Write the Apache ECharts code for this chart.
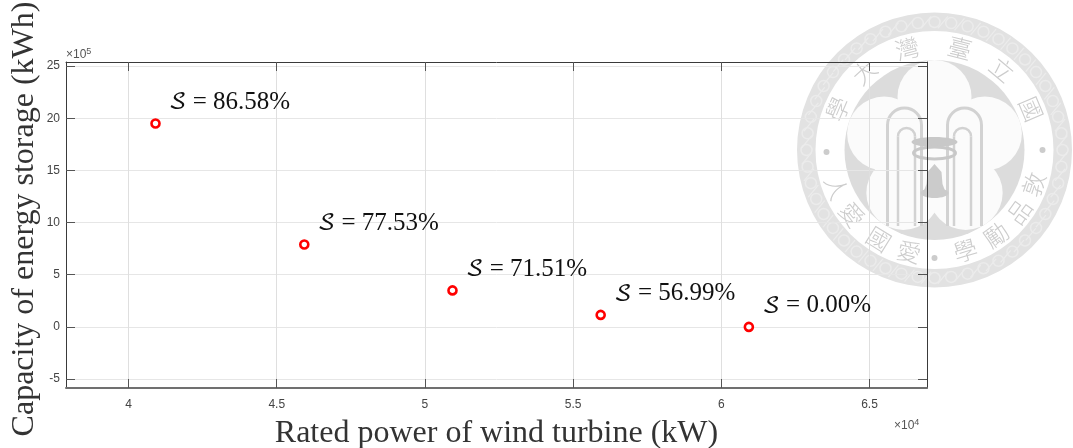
<!DOCTYPE html>
<html><head><meta charset="utf-8">
<style>html,body{margin:0;padding:0;background:#fff}#c{width:1073px;height:448px}</style>
<script src="https://cdn.jsdelivr.net/npm/echarts@6/dist/echarts.min.js"></script>
</head><body><div id="c"></div>
<script>
const ratedPower = [40910, 45930, 50930, 55930, 60930];
const storageCapacity = [1950000, 790000, 350000, 115000, 0];
const selfSufficiency = ['86.58%', '77.53%', '71.51%', '56.99%', '0.00%'];
const xTicks = [40000, 45000, 50000, 55000, 60000, 65000];
const yTicks = [-500000, 0, 500000, 1000000, 1500000, 2000000, 2500000];
const xRange = [37890, 66940];
const yRange = [-586000, 2540000];
const xTitle = 'Rated power of wind turbine (kW)';
const yTitle = 'Capacity of energy storage (kWh)';
const sealRight = [['國',67],['立',40],['臺',14],['灣',-15],['大',-42],['學',-67]];
const sealBottom = [['人',249],['愛',232],['國',212],['愛',194],['學',163],['勵',144],['品',126],['敦',109]];
const sealDots = [-91, 180, 90];

const cx = 934.5, cy = 150, W = -10;
const mark = [];
const rad = d => d * Math.PI / 180;
const pos = (a, r) => [cx + r * Math.sin(rad(a)), cy - r * Math.cos(rad(a))];
mark.push({type:'ring', z:W, shape:{cx, cy, r:137.5, r0:119}, style:{fill:'#e2e2e2'}});
for (let a = 0; a < 360; a += 7.5) {
  const p = pos(a, 128);
  mark.push({type:'circle', z:W, shape:{cx:p[0], cy:p[1], r:5.5}, style:{fill:'none', stroke:'#ebebeb', lineWidth:1.5}});
  const q = pos(a + 3.75, 128);
  mark.push({type:'line', z:W, shape:{x1:q[0]-5, y1:q[1]+6, x2:q[0]+5, y2:q[1]-6}, style:{stroke:'#ececec', lineWidth:1.2}});
}
mark.push({type:'circle', z:W, shape:{cx, cy, r:90}, style:{fill:'#dcdcdc'}});
[0, 72, 144, 216, 288].forEach(a => {
  const p = pos(a, 53);
  mark.push({type:'circle', z:W, shape:{cx:p[0], cy:p[1], r:37}, style:{fill:'#fbfbfb'}});
});
mark.push({type:'circle', z:W, shape:{cx, cy, r:34}, style:{fill:'#fbfbfb'}});
const arch = (dx, top, w, lw) => [-1, 1].forEach(s => {
  const x = cx + s * dx, st = {fill:'none', stroke:'#d2d2d2', lineWidth:lw};
  mark.push({type:'line', z:W, shape:{x1:x-w, y1:cy+76, x2:x-w, y2:top+w}, style:st});
  mark.push({type:'line', z:W, shape:{x1:x+w, y1:cy+76, x2:x+w, y2:top+w}, style:st});
  mark.push({type:'arc', z:W, shape:{cx:x, cy:top+w, r:w, startAngle:Math.PI, endAngle:2*Math.PI, clockwise:true}, style:st});
});
arch(30, cy-42, 17, 3);
arch(28, cy-22, 8.5, 2.5);
mark.push({type:'ellipse', z:W, shape:{cx, cy:cy-8, rx:23, ry:5}, style:{fill:'#c8c8c8'}});
mark.push({type:'ellipse', z:W, shape:{cx, cy:cy+3, rx:21, ry:6}, style:{fill:'none', stroke:'#c8c8c8', lineWidth:3}});
mark.push({type:'polygon', z:W, shape:{points:[[cx-11,cy+42],[cx-8,cy+34],[cx-7,cy+22],[cx,cy+14],[cx+7,cy+22],[cx+8,cy+34],[cx+11,cy+42]]}, style:{fill:'#cbcbcb'}});
mark.push({type:'ellipse', z:W, shape:{cx, cy:cy+43, rx:14, ry:5}, style:{fill:'#cbcbcb'}});
const sealText = (t, a, rot) => {
  const p = pos(a, 105);
  mark.push({type:'text', z:W, x:p[0], y:p[1], rotation:rot,
    style:{text:t, align:'center', verticalAlign:'middle', fontFamily:'"Noto Sans CJK TC"', fontSize:24, fontWeight:300, fill:'#cccccc'}});
};
sealRight.forEach(([t, a]) => sealText(t, a, -rad(a)));
sealBottom.forEach(([t, a]) => sealText(t, a, rad(180 - a)));
sealDots.forEach(a => { const p = pos(a, 108); mark.push({type:'circle', z:W, shape:{cx:p[0], cy:p[1], r:3}, style:{fill:'#cccccc'}}); });

const multiplier = (x, y, exp) => ({type:'text', x, y, z:5,
  style:{rich:{a:{fontFamily:'"Liberation Sans"', fontSize:12, fill:'#555'}, b:{fontFamily:'"Liberation Sans"', fontSize:9, fill:'#555', verticalAlign:'top', lineHeight:15}},
    text:`{a|×10}{b|${exp}}`, verticalAlign:'middle'}});
mark.push(multiplier(66, 55, 5), multiplier(894, 426, 4));

const axisBase = {splitLine:{show:false}, axisLabel:{show:false}, axisTick:{show:false}};
const darkLine = {show:true, onZero:false, lineStyle:{color:'#3a3a3a', width:1}};
const chart = echarts.init(document.getElementById('c'), null, {renderer:'canvas'});
chart.setOption({
  animation:false,
  backgroundColor:'#fff',
  grid:{left:66, right:146, top:62, bottom:60, outerBoundsMode:'none', containLabel:false},
  graphic:mark,
  xAxis:[
    {type:'value', min:xRange[0], max:xRange[1], position:'bottom',
     name:xTitle, nameLocation:'middle', nameGap:30,
     nameTextStyle:{fontFamily:'"Liberation Serif"', fontSize:32, color:'#333'},
     axisLine:{show:true, onZero:false, lineStyle:{color:'#707070', width:2}},
     axisTick:{show:true, inside:true, length:9, customValues:xTicks, lineStyle:{color:'#555'}},
     axisLabel:{show:true, customValues:xTicks, margin:11, fontFamily:'"Liberation Sans"', fontSize:12, color:'#444', formatter:v => String(v / 10000)},
     splitLine:{show:true, lineStyle:{color:'#dfdfdf', width:1}}},
    {...axisBase, type:'value', min:xRange[0], max:xRange[1], position:'top', axisLine:darkLine,
     axisTick:{show:true, inside:true, length:9, customValues:xTicks, lineStyle:{color:'#555'}}}
  ],
  yAxis:[
    {type:'value', min:yRange[0], max:yRange[1], position:'left',
     name:yTitle, nameLocation:'middle', nameGap:25, nameRotate:90, nameMoveOverlap:false,
     nameTextStyle:{fontFamily:'"Liberation Serif"', fontSize:32, color:'#333', padding:[0,0,0,12]},
     axisLine:darkLine,
     axisTick:{show:true, inside:true, length:9, customValues:yTicks, lineStyle:{color:'#555'}},
     axisLabel:{show:true, customValues:yTicks, margin:6, fontFamily:'"Liberation Sans"', fontSize:12, color:'#444', formatter:v => String(v / 100000)},
     splitLine:{show:true, lineStyle:{color:'#e6e6e6', width:1}}},
    {...axisBase, type:'value', min:yRange[0], max:yRange[1], position:'right', axisLine:darkLine,
     axisTick:{show:true, inside:true, length:9, customValues:yTicks, lineStyle:{color:'#555'}}}
  ],
  series:[{
    type:'scatter', symbol:'circle', symbolSize:8,
    data:ratedPower.map((x, i) => [x, storageCapacity[i]]),
    itemStyle:{color:'#fff', borderColor:'#ff0000', borderWidth:2.6, opacity:1},
    label:{show:true, position:'right', distance:0, offset:[8,-21],
      formatter:p => `{s|𝒮}{t| = ${selfSufficiency[p.dataIndex]}}`,
      rich:{s:{fontFamily:'"DejaVu Math TeX Gyre","Noto Sans Math","DejaVu Serif","Liberation Serif"', fontSize:23, color:'#111'},
            t:{fontFamily:'"Liberation Serif"', fontSize:25, color:'#111'}}}
  }]
});
</script></body></html>
